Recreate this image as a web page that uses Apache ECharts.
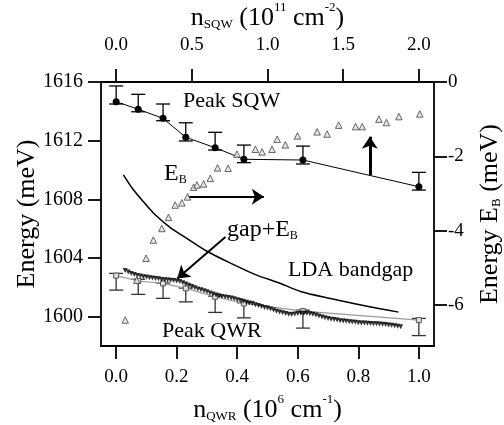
<!DOCTYPE html>
<html><head><meta charset="utf-8">
<script src="https://cdn.jsdelivr.net/npm/echarts@6/dist/echarts.min.js"></script>
<style>html,body{margin:0;padding:0;background:#fff}#c{width:504px;height:425px}</style>
</head><body><div id="c"></div>
<script>
// ---- tick labels ----
const xTicksQWR = [0, 0.2, 0.4, 0.6, 0.8, 1.0];
const xTicksSQW = [0, 0.5, 1.0, 1.5, 2.0];
const yTicksE = [1600, 1604, 1608, 1612, 1616];
const yTicksEB = [0, -2, -4, -6];

// ---- Peak SQW (top axis, 10^11 cm^-2) ----
const nSQW = [0, 0.146, 0.31, 0.46, 0.654, 0.844, 1.234, 2.0];
const peakSQW = [1614.66, 1614.14, 1613.52, 1612.23, 1611.52, 1610.73, 1610.68, 1608.86];
const peakSQWHigh = [1615.73, 1615.16, 1614.50, 1613.22, 1612.57, 1611.70, 1611.63, 1609.84];
const peakSQWLow = [1614.50, 1613.97, 1613.36, 1611.98, 1611.36, 1610.50, 1610.41, 1608.63];

// ---- Peak QWR points with error bars (bottom axis, 10^6 cm^-1) ----
const nQWR = [0, 0.073, 0.155, 0.23, 0.327, 0.422, 0.617, 1.0];
const peakQWR = [1602.80, 1602.43, 1602.27, 1601.93, 1601.36, 1600.90, 1600.38, 1599.77];
const peakQWRHigh = [1602.95, 1602.55, 1602.30, 1601.95, 1601.40, 1600.95, 1600.45, 1599.88];
const peakQWRLow = [1601.81, 1601.52, 1601.25, 1601.01, 1600.29, 1599.92, 1599.22, 1598.71];

// ---- dense QWR spectrum peak (filled down-triangles) ----
const specX = [0.03,0.04,0.05,0.06,0.07,0.08,0.09,0.10,0.11,0.12,0.13,0.14,0.15,0.16,0.17,0.18,0.19,0.20,0.21,0.22,
0.23,0.24,0.25,0.26,0.27,0.28,0.29,0.30,0.31,0.32,0.33,0.34,0.35,0.36,0.37,0.38,0.39,0.40,0.41,0.42,
0.43,0.44,0.45,0.46,0.47,0.48,0.49,0.50,0.51,0.52,0.53,0.54,0.55,0.56,0.57,0.58,0.59,0.60,0.61,0.62,
0.63,0.64,0.65,0.66,0.67,0.68,0.69,0.70,0.71,0.72,0.73,0.74,0.75,0.76,0.77,0.78,0.79,0.80,0.81,0.82,
0.83,0.84,0.85,0.86,0.87,0.88,0.89,0.90,0.91,0.92,0.93,0.94];
const specE = [1603.14,1603.04,1602.95,1602.87,1602.81,1602.77,1602.73,1602.70,1602.66,1602.64,1602.61,1602.58,1602.54,1602.52,1602.50,1602.48,1602.46,1602.43,1602.40,1602.32,
1602.23,1602.14,1602.05,1601.97,1601.89,1601.83,1601.77,1601.70,1601.61,1601.54,1601.48,1601.42,1601.37,1601.34,1601.30,1601.28,1601.22,1601.16,1601.10,1601.05,
1600.99,1600.94,1600.89,1600.82,1600.76,1600.70,1600.62,1600.59,1600.52,1600.45,1600.37,1600.31,1600.26,1600.21,1600.16,1600.15,1600.19,1600.22,1600.24,1600.24,
1600.23,1600.20,1600.16,1600.12,1600.05,1599.98,1599.93,1599.87,1599.83,1599.80,1599.77,1599.72,1599.70,1599.68,1599.66,1599.64,1599.62,1599.59,1599.57,1599.56,
1599.55,1599.53,1599.52,1599.51,1599.50,1599.49,1599.47,1599.44,1599.41,1599.38,1599.34,1599.31];

// ---- LDA bandgap ----
const ldaX = [0.024, 0.057, 0.096, 0.129, 0.179, 0.223, 0.300, 0.388, 0.460, 0.543, 0.609, 0.708, 0.817, 0.933];
const ldaE = [1609.67, 1608.65, 1607.70, 1606.95, 1606.07, 1605.48, 1604.46, 1603.55, 1602.87, 1602.26, 1601.72, 1601.24, 1600.76, 1600.31];

// ---- E_B (right axis) ----
const ebX = [0.030,0.068,0.099,0.123,0.151,0.173,0.195,0.217,0.236,0.256,0.267,0.289,0.311,0.335,0.370,0.399,
0.460,0.482,0.515,0.532,0.559,0.599,0.664,0.697,0.735,0.791,0.813,0.868,0.893,0.934,1.003];
const ebY = [-6.40,-5.33,-4.74,-4.25,-3.94,-3.64,-3.31,-3.25,-3.09,-2.83,-2.77,-2.74,-2.59,-2.31,-2.32,-1.94,
-1.81,-1.88,-1.81,-1.54,-1.69,-1.45,-1.34,-1.40,-1.16,-1.20,-1.20,-1.00,-1.09,-0.93,-0.86];

const F = '"Liberation Serif", "Times New Roman", serif';
const chart = echarts.init(document.getElementById('c'), null, {renderer: 'canvas'});

const richTitle = {
  m: {fontFamily: F, fontSize: 26, color: '#000', lineHeight: 30, verticalAlign: 'bottom'},
  sub: {fontFamily: F, fontSize: 13, color: '#000', lineHeight: 14, verticalAlign: 'bottom'},
  sup: {fontFamily: F, fontSize: 13, color: '#000', lineHeight: 16, verticalAlign: 'top'}
};
const richAnn = {
  m: {fontFamily: F, fontSize: 24, color: '#000', lineHeight: 28, verticalAlign: 'bottom'},
  sub: {fontFamily: F, fontSize: 12, color: '#000', lineHeight: 13, verticalAlign: 'bottom'}
};

function axisCommon(ticks, fmt, fs, margin) {
  return {
    type: 'value',
    axisLine: {show: true, onZero: false, lineStyle: {color: '#000', width: 1.8}},
    axisTick: {show: true, customValues: ticks, length: 13, inside: false, lineStyle: {color: '#000', width: 1.8}},
    axisLabel: {show: true, customValues: ticks, formatter: fmt, fontFamily: F, fontSize: fs, color: '#000', margin: margin},
    splitLine: {show: false},
    nameLocation: 'middle',
    nameTextStyle: {rich: richTitle}
  };
}

function errRender(cap, color) {
  return function (params, api) {
    const x = api.value(0), lo = api.value(1), hi = api.value(2);
    const p1 = api.coord([x, hi]), p2 = api.coord([x, lo]);
    const w = cap / 2;
    const st = {stroke: color, lineWidth: 1.3};
    return {type: 'group', children: [
      {type: 'line', shape: {x1: p1[0], y1: p1[1], x2: p2[0], y2: p2[1]}, style: st},
      {type: 'line', shape: {x1: p1[0] - w, y1: p1[1], x2: p1[0] + w, y2: p1[1]}, style: st},
      {type: 'line', shape: {x1: p2[0] - w, y1: p2[1], x2: p2[0] + w, y2: p2[1]}, style: st}
    ]};
  };
}

const f1 = v => v.toFixed(1);
const f0 = v => String(v);

const option = {
  animation: false,
  backgroundColor: '#fff',
  grid: {left: 101, right: 70, top: 82, bottom: 79, containLabel: false, outerBoundsMode: 'none'},
  xAxis: [
    Object.assign(axisCommon(xTicksQWR, f1, 19, 22), {position: 'bottom', min: -0.05, max: 1.05,
      name: '{m|n}{sub|QWR}{m| (10}{sup|6}{m| cm}{sup|-1}{m|)}', nameGap: 47}),
    Object.assign(axisCommon(xTicksSQW, f1, 19, 27), {position: 'top', min: -0.1, max: 2.1,
      name: '{m|n}{sub|SQW}{m| (10}{sup|11}{m| cm}{sup|-2}{m|)}', nameGap: 50})
  ],
  yAxis: [
    Object.assign(axisCommon(yTicksE, f0, 20, 18), {position: 'left', min: 1598, max: 1616,
      name: '{m|Energy (meV)}', nameGap: 61, nameRotate: 90, nameMoveOverlap: false}),
    Object.assign(axisCommon(yTicksEB, f0, 19, 14), {position: 'right', min: -7.1, max: 0,
      name: '{m|Energy E}{sub|B}{m| (meV)}', nameGap: 39, nameRotate: 90})
  ],
  series: [
    {
      type: 'custom', xAxisIndex: 1, yAxisIndex: 0, z: 3,
      renderItem: errRender(14, '#000'),
      encode: {x: 0, y: [1, 2]},
      data: nSQW.map((x, i) => [x, peakSQWLow[i], peakSQWHigh[i]])
    },
    {
      type: 'line', xAxisIndex: 1, yAxisIndex: 0, z: 4,
      data: nSQW.map((x, i) => [x, peakSQW[i]]),
      symbol: 'circle', symbolSize: 7, showSymbol: true,
      itemStyle: {color: '#000'}, lineStyle: {color: '#000', width: 1}
    },
    {
      type: 'custom', xAxisIndex: 0, yAxisIndex: 0, z: 3,
      renderItem: errRender(14, '#333'),
      encode: {x: 0, y: [1, 2]},
      data: nQWR.map((x, i) => [x, peakQWRLow[i], peakQWRHigh[i]])
    },
    {
      type: 'line', xAxisIndex: 0, yAxisIndex: 0, z: 4,
      data: nQWR.map((x, i) => [x, peakQWR[i]]),
      symbol: 'rect', symbolSize: 5, showSymbol: true,
      itemStyle: {color: '#ddd', borderColor: '#555', borderWidth: 1},
      lineStyle: {color: '#999', width: 1.2}
    },
    {
      type: 'scatter', xAxisIndex: 0, yAxisIndex: 0, z: 5,
      data: specX.map((x, i) => [x, specE[i]]),
      symbol: 'triangle', symbolRotate: 180, symbolSize: 5,
      itemStyle: {color: '#000'}
    },
    {
      type: 'line', xAxisIndex: 0, yAxisIndex: 0, z: 4,
      data: ldaX.map((x, i) => [x, ldaE[i]]),
      smooth: 0.3, showSymbol: false, symbol: 'none',
      lineStyle: {color: '#000', width: 1.5},
      markLine: {
        silent: true, symbol: ['none', 'arrow'], symbolSize: 12,
        label: {show: false},
        lineStyle: {color: '#000', width: 2, type: 'solid'},
        data: [
          [{coord: [0.238, 1608.18]}, {coord: [0.488, 1608.18]}],
          [{coord: [0.361, 1605.43]}, {coord: [0.202, 1602.61]}],
          [{coord: [0.838, 1609.66], lineStyle: {width: 3}}, {coord: [0.838, 1612.27]}]
        ]
      }
    },
    {
      type: 'scatter', xAxisIndex: 0, yAxisIndex: 1, z: 6,
      data: ebX.map((x, i) => [x, ebY[i]]),
      symbol: 'triangle', symbolSize: 6.5,
      itemStyle: {color: '#e0e0e0', borderColor: '#444', borderWidth: 1}
    }
  ],
  graphic: [
    {type: 'text', left: 183, top: 90, style: {text: 'Peak SQW', font: '22px ' + F, fill: '#000'}},
    {type: 'text', left: 164, top: 162, style: {text: '{m|E}{sub|B}', rich: richAnn}},
    {type: 'text', left: 227, top: 218, style: {text: '{m|gap+E}{sub|B}', rich: richAnn}},
    {type: 'text', left: 288, top: 259, style: {text: 'LDA bandgap', font: '22px ' + F, fill: '#000'}},
    {type: 'text', left: 162, top: 320, style: {text: 'Peak QWR', font: '22px ' + F, fill: '#000'}}
  ]
};
chart.setOption(option);
</script>
</body></html>
